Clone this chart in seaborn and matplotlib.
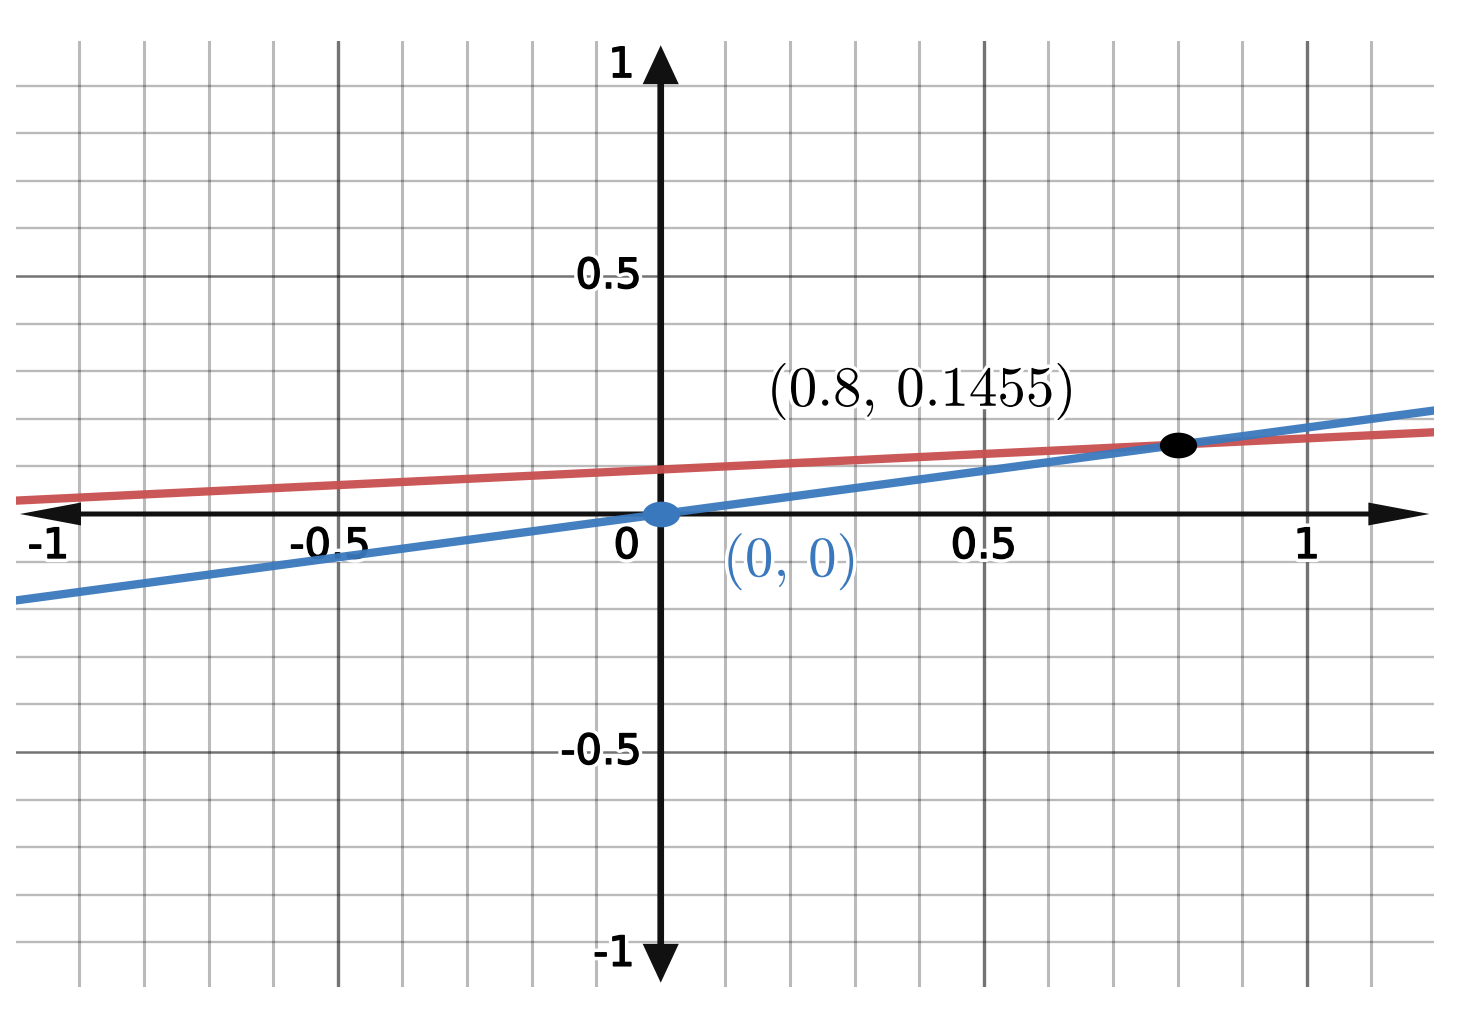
import numpy as np
import matplotlib
matplotlib.use("Agg")
import matplotlib.pyplot as plt
import matplotlib.patheffects as pe
import seaborn as sns

# datos de las dos rectas (valores en los extremos de la vista)
line_x = [-1.0, 1.2]
red_y = [0.028, 0.172]
blue_y = [-0.182, 0.218]

# puntos marcados y sus etiquetas
pts_x = [0.8, 0.0]
pts_y = [0.1455, 0.0]
pts_labels = ["(0.8, 0.1455)", "(0, 0)"]

# etiquetas de los ejes
xtick_vals = [-1, -0.5, 0, 0.5, 1]
xtick_labels = ["-1", "-0.5", "0", "0.5", "1"]
ytick_vals = [1, 0.5, -0.5, -1]
ytick_labels = ["1", "0.5", "-0.5", "-1"]

RED = "#c94f4f"
BLUE = "#3a78bd"

sns.set_style("white")
plt.rcParams["font.family"] = ["DejaVu Sans"]

fig = plt.figure(figsize=(14.81, 10.23), dpi=100)
ax = fig.add_axes([16 / 1481, 36 / 1023, 1418 / 1481, 946 / 1023])
ax.set_xlim(-0.998, 1.197)
ax.set_ylim(-0.994, 0.994)

# rejilla: mayor cada 0.5, menor cada 0.1 (sin las líneas de los ejes ni bordes)
ax.set_xticks([-0.5, 0.5, 1])
ax.set_yticks([-0.5, 0.5])
ax.set_xticks([v for v in np.round(np.arange(-0.9, 1.11, 0.1), 1) if v not in (-0.5, 0.0, 0.5, 1.0)], minor=True)
ax.set_yticks([v for v in np.round(np.arange(-0.9, 0.91, 0.1), 1) if v not in (-0.5, 0.0, 0.5)], minor=True)
ax.xaxis.grid(True, which="minor", color="black", alpha=0.27, lw=2.2)
ax.yaxis.grid(True, which="minor", color="black", alpha=0.27, lw=1.7)
ax.xaxis.grid(True, which="major", color="black", alpha=0.55, lw=2.4)
ax.yaxis.grid(True, which="major", color="black", alpha=0.55, lw=1.8)
ax.set_axisbelow(True)
ax.tick_params(which="both", length=0, labelbottom=False, labelleft=False)
for s in ax.spines.values():
    s.set_visible(False)

# ejes con flechas (cuatro medias flechas rellenas desde el origen)
AX_COLOR = "#111111"
h_style = "simple,head_length=44,head_width=16.5,tail_width=3.6"
v_style = "simple,head_length=28,head_width=26,tail_width=4.8"
for tip, style in [((1.190, 0), h_style), ((-0.992, 0), h_style),
                   ((0, 0.985), v_style), ((0, -0.985), v_style)]:
    ax.annotate("", xy=tip, xytext=(0, 0),
                arrowprops=dict(arrowstyle=style, mutation_scale=1, lw=0,
                                color=AX_COLOR, shrinkA=0, shrinkB=0),
                zorder=2.5)

# halo blanco y trazo un poco más grueso, como en la imagen
halo = [pe.Stroke(linewidth=6, foreground="white"),
        pe.Stroke(linewidth=1.0, foreground="black"), pe.Normal()]
fs = 30

# etiquetas eje x
x_offsets = {"-1": (13, -11, "left"), "-0.5": (33, -11, "right"),
             "0": (-34, -11, "center"), "0.5": (0, -11, "center"),
             "1": (0, -11, "center")}
for v, lab in zip(xtick_vals, xtick_labels):
    dx, dy, ha = x_offsets[lab]
    ax.annotate(lab, xy=(v, 0), xytext=(dx, dy), textcoords="offset pixels",
                ha=ha, va="top", fontsize=fs, color="black",
                path_effects=halo, zorder=2.2, annotation_clip=False)

# etiquetas eje y
y_offsets = {"1": -27, "0.5": 0, "-0.5": 0, "-1": 36}
y_right = {"1": -26, "0.5": -19, "-0.5": -19, "-1": -26}
for v, lab in zip(ytick_vals, ytick_labels):
    ax.annotate(lab, xy=(0, v), xytext=(y_right[lab], y_offsets[lab]),
                textcoords="offset pixels", ha="right", va="center",
                fontsize=fs, color="black", path_effects=halo,
                zorder=2.2, annotation_clip=False)

# rectas
sns.lineplot(x=line_x, y=red_y, color=RED, lw=6, alpha=0.95, ax=ax, zorder=3)
sns.lineplot(x=line_x, y=blue_y, color=BLUE, lw=6, alpha=0.95, ax=ax, zorder=3.1)

# puntos (elipse, la imagen original está estirada)
t = np.linspace(0, 2 * np.pi, 60)
ellipse = np.column_stack([1.45 * np.cos(t), np.sin(t)])
sns.scatterplot(x=pts_x[:1], y=pts_y[:1], marker=ellipse, s=720, color="black",
                linewidth=0, ax=ax, zorder=4)
sns.scatterplot(x=pts_x[1:], y=pts_y[1:], marker=ellipse, s=720, color=BLUE,
                linewidth=0, ax=ax, zorder=4)

# etiquetas de los puntos
ax.annotate(pts_labels[0], xy=(pts_x[0], pts_y[0]), xytext=(-256, 54),
            textcoords="offset pixels", ha="center", va="center",
            fontsize=41, family="cmr10", color="black",
            path_effects=[pe.withStroke(linewidth=5, foreground="white")], zorder=5)
ax.annotate(pts_labels[1], xy=(pts_x[1], pts_y[1]), xytext=(130, -47),
            textcoords="offset pixels", ha="center", va="center",
            fontsize=41, family="cmr10", color=BLUE,
            path_effects=[pe.withStroke(linewidth=5, foreground="white")], zorder=5)

fig.savefig("out.png", dpi=100)
